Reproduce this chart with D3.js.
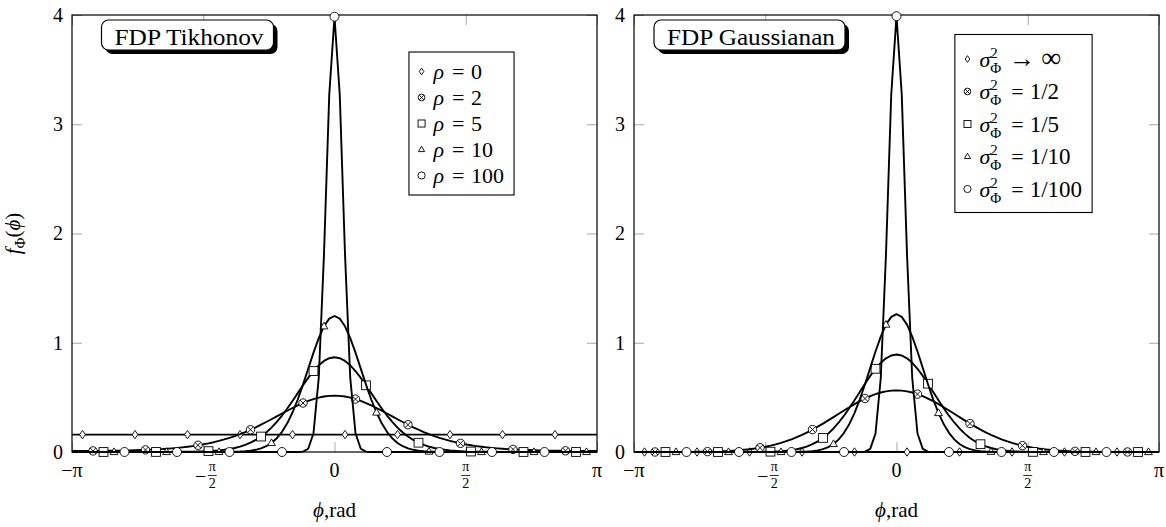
<!DOCTYPE html>
<html>
<head>
<meta charset="utf-8">
<script src="https://cdn.jsdelivr.net/npm/d3@7"></script>
<style>
  body { margin: 0; background: #fff; }
  svg { display: block; }
</style>
</head>
<body>
<svg id="chart" width="1166" height="527"></svg>
<script>
// sample positions (rad), 101 samples over [-pi, pi]
const phi = [
  -3.1416, -3.0788, -3.0159, -2.9531, -2.8903, -2.8274, -2.7646, -2.7018, -2.6389, -2.5761,
  -2.5133, -2.4504, -2.3876, -2.3248, -2.2619, -2.1991, -2.1363, -2.0735, -2.0106, -1.9478,
  -1.8850, -1.8221, -1.7593, -1.6965, -1.6336, -1.5708, -1.5080, -1.4451, -1.3823, -1.3195,
  -1.2566, -1.1938, -1.1310, -1.0681, -1.0053, -0.9425, -0.8796, -0.8168, -0.7540, -0.6912,
  -0.6283, -0.5655, -0.5027, -0.4398, -0.3770, -0.3142, -0.2513, -0.1885, -0.1257, -0.0628,
  0,
  0.0628, 0.1257, 0.1885, 0.2513, 0.3142, 0.3770, 0.4398, 0.5027, 0.5655, 0.6283,
  0.6912, 0.7540, 0.8168, 0.8796, 0.9425, 1.0053, 1.0681, 1.1310, 1.1938, 1.2566,
  1.3195, 1.3823, 1.4451, 1.5080, 1.5708, 1.6336, 1.6965, 1.7593, 1.8221, 1.8850,
  1.9478, 2.0106, 2.0735, 2.1363, 2.1991, 2.2619, 2.3248, 2.3876, 2.4504, 2.5133,
  2.5761, 2.6389, 2.7018, 2.7646, 2.8274, 2.8903, 2.9531, 3.0159, 3.0788, 3.1416
];

// FDP Tikhonov
const rho0 = [
  0.1592, 0.1592, 0.1592, 0.1592, 0.1592, 0.1592, 0.1592, 0.1592, 0.1592, 0.1592,
  0.1592, 0.1592, 0.1592, 0.1592, 0.1592, 0.1592, 0.1592, 0.1592, 0.1592, 0.1592,
  0.1592, 0.1592, 0.1592, 0.1592, 0.1592, 0.1592, 0.1592, 0.1592, 0.1592, 0.1592,
  0.1592, 0.1592, 0.1592, 0.1592, 0.1592, 0.1592, 0.1592, 0.1592, 0.1592, 0.1592,
  0.1592, 0.1592, 0.1592, 0.1592, 0.1592, 0.1592, 0.1592, 0.1592, 0.1592, 0.1592,
  0.1592,
  0.1592, 0.1592, 0.1592, 0.1592, 0.1592, 0.1592, 0.1592, 0.1592, 0.1592, 0.1592,
  0.1592, 0.1592, 0.1592, 0.1592, 0.1592, 0.1592, 0.1592, 0.1592, 0.1592, 0.1592,
  0.1592, 0.1592, 0.1592, 0.1592, 0.1592, 0.1592, 0.1592, 0.1592, 0.1592, 0.1592,
  0.1592, 0.1592, 0.1592, 0.1592, 0.1592, 0.1592, 0.1592, 0.1592, 0.1592, 0.1592,
  0.1592, 0.1592, 0.1592, 0.1592, 0.1592, 0.1592, 0.1592, 0.1592, 0.1592, 0.1592
];
const rho2 = [
  0.0094, 0.0095, 0.0096, 0.0098, 0.0101, 0.0104, 0.0109, 0.0114, 0.0121, 0.0129,
  0.0138, 0.0150, 0.0162, 0.0178, 0.0195, 0.0215, 0.0239, 0.0266, 0.0298, 0.0334,
  0.0376, 0.0425, 0.0480, 0.0543, 0.0616, 0.0698, 0.0792, 0.0897, 0.1016, 0.1148,
  0.1295, 0.1458, 0.1636, 0.1830, 0.2039, 0.2262, 0.2498, 0.2745, 0.3000, 0.3260,
  0.3521, 0.3779, 0.4028, 0.4265, 0.4483, 0.4678, 0.4845, 0.4979, 0.5078, 0.5138,
  0.5159,
  0.5138, 0.5078, 0.4979, 0.4845, 0.4678, 0.4483, 0.4265, 0.4028, 0.3779, 0.3521,
  0.3260, 0.3000, 0.2745, 0.2498, 0.2262, 0.2039, 0.1830, 0.1636, 0.1458, 0.1295,
  0.1148, 0.1016, 0.0897, 0.0792, 0.0698, 0.0616, 0.0543, 0.0480, 0.0425, 0.0376,
  0.0334, 0.0298, 0.0266, 0.0239, 0.0215, 0.0195, 0.0178, 0.0162, 0.0150, 0.0138,
  0.0129, 0.0121, 0.0114, 0.0109, 0.0104, 0.0101, 0.0098, 0.0096, 0.0095, 0.0094
];
const rho5 = [
  0.0001, 0.0001, 0.0001, 0.0001, 0.0001, 0.0001, 0.0001, 0.0001, 0.0001, 0.0001,
  0.0001, 0.0001, 0.0002, 0.0002, 0.0002, 0.0003, 0.0004, 0.0005, 0.0007, 0.0009,
  0.0012, 0.0017, 0.0023, 0.0031, 0.0043, 0.0058, 0.0080, 0.0109, 0.0149, 0.0203,
  0.0274, 0.0368, 0.0491, 0.0650, 0.0851, 0.1104, 0.1415, 0.1791, 0.2236, 0.2753,
  0.3337, 0.3981, 0.4672, 0.5388, 0.6104, 0.6789, 0.7411, 0.7936, 0.8336, 0.8586,
  0.8671,
  0.8586, 0.8336, 0.7936, 0.7411, 0.6789, 0.6104, 0.5388, 0.4672, 0.3981, 0.3337,
  0.2753, 0.2236, 0.1791, 0.1415, 0.1104, 0.0851, 0.0650, 0.0491, 0.0368, 0.0274,
  0.0203, 0.0149, 0.0109, 0.0080, 0.0058, 0.0043, 0.0031, 0.0023, 0.0017, 0.0012,
  0.0009, 0.0007, 0.0005, 0.0004, 0.0003, 0.0002, 0.0002, 0.0002, 0.0001, 0.0001,
  0.0001, 0.0001, 0.0001, 0.0001, 0.0001, 0.0001, 0.0001, 0.0001, 0.0001, 0.0001
];
const rho10 = [
  0, 0, 0, 0, 0, 0, 0, 0, 0, 0,
  0, 0, 0, 0, 0, 0, 0, 0, 0, 0,
  0, 0, 0, 0, 0, 0, 0.0001, 0.0002, 0.0004, 0.0007,
  0.0012, 0.0022, 0.0040, 0.0070, 0.0120, 0.0202, 0.0332, 0.0531, 0.0828, 0.1255,
  0.1844, 0.2625, 0.3614, 0.4807, 0.6169, 0.7631, 0.9093, 1.0429, 1.1506, 1.2207,
  1.2450,
  1.2207, 1.1506, 1.0429, 0.9093, 0.7631, 0.6169, 0.4807, 0.3614, 0.2625, 0.1844,
  0.1255, 0.0828, 0.0531, 0.0332, 0.0202, 0.0120, 0.0070, 0.0040, 0.0022, 0.0012,
  0.0007, 0.0004, 0.0002, 0.0001, 0, 0, 0, 0, 0, 0,
  0, 0, 0, 0, 0, 0, 0, 0, 0, 0,
  0, 0, 0, 0, 0, 0, 0, 0, 0, 0
];
const rho100 = [
  0, 0, 0, 0, 0, 0, 0, 0, 0, 0,
  0, 0, 0, 0, 0, 0, 0, 0, 0, 0,
  0, 0, 0, 0, 0, 0, 0, 0, 0, 0,
  0, 0, 0, 0, 0, 0, 0, 0, 0, 0,
  0, 0, 0, 0.0003, 0.0036, 0.0298, 0.1722, 0.6778, 1.8111, 3.2710,
  3.9844,
  3.2710, 1.8111, 0.6778, 0.1722, 0.0298, 0.0036, 0.0003, 0, 0, 0,
  0, 0, 0, 0, 0, 0, 0, 0, 0, 0,
  0, 0, 0, 0, 0, 0, 0, 0, 0, 0,
  0, 0, 0, 0, 0, 0, 0, 0, 0, 0,
  0, 0, 0, 0, 0, 0, 0, 0, 0, 0
];

// FDP Gaussiana
const varInf = [
  0, 0, 0, 0, 0, 0, 0, 0, 0, 0,
  0, 0, 0, 0, 0, 0, 0, 0, 0, 0,
  0, 0, 0, 0, 0, 0, 0, 0, 0, 0,
  0, 0, 0, 0, 0, 0, 0, 0, 0, 0,
  0, 0, 0, 0, 0, 0, 0, 0, 0, 0,
  0,
  0, 0, 0, 0, 0, 0, 0, 0, 0, 0,
  0, 0, 0, 0, 0, 0, 0, 0, 0, 0,
  0, 0, 0, 0, 0, 0, 0, 0, 0, 0,
  0, 0, 0, 0, 0, 0, 0, 0, 0, 0,
  0, 0, 0, 0, 0, 0, 0, 0, 0, 0
];
const var2 = [
  0, 0, 0.0001, 0.0001, 0.0001, 0.0002, 0.0003, 0.0004, 0.0005, 0.0007,
  0.0010, 0.0014, 0.0019, 0.0025, 0.0034, 0.0045, 0.0059, 0.0077, 0.0099, 0.0127,
  0.0162, 0.0204, 0.0255, 0.0317, 0.0391, 0.0478, 0.0581, 0.0699, 0.0835, 0.0989,
  0.1163, 0.1357, 0.1570, 0.1803, 0.2054, 0.2321, 0.2602, 0.2895, 0.3195, 0.3499,
  0.3802, 0.4098, 0.4382, 0.4650, 0.4894, 0.5112, 0.5297, 0.5445, 0.5554, 0.5620,
  0.5642,
  0.5620, 0.5554, 0.5445, 0.5297, 0.5112, 0.4894, 0.4650, 0.4382, 0.4098, 0.3802,
  0.3499, 0.3195, 0.2895, 0.2602, 0.2321, 0.2054, 0.1803, 0.1570, 0.1357, 0.1163,
  0.0989, 0.0835, 0.0699, 0.0581, 0.0478, 0.0391, 0.0317, 0.0255, 0.0204, 0.0162,
  0.0127, 0.0099, 0.0077, 0.0059, 0.0045, 0.0034, 0.0025, 0.0019, 0.0014, 0.0010,
  0.0007, 0.0005, 0.0004, 0.0003, 0.0002, 0.0001, 0.0001, 0.0001, 0, 0
];
const var5 = [
  0, 0, 0, 0, 0, 0, 0, 0, 0, 0,
  0, 0, 0, 0, 0, 0, 0, 0, 0, 0.0001,
  0.0001, 0.0002, 0.0004, 0.0007, 0.0011, 0.0019, 0.0030, 0.0048, 0.0075, 0.0115,
  0.0172, 0.0253, 0.0364, 0.0515, 0.0713, 0.0968, 0.1289, 0.1683, 0.2154, 0.2703,
  0.3325, 0.4011, 0.4743, 0.5500, 0.6253, 0.6970, 0.7618, 0.8162, 0.8575, 0.8833,
  0.8921,
  0.8833, 0.8575, 0.8162, 0.7618, 0.6970, 0.6253, 0.5500, 0.4743, 0.4011, 0.3325,
  0.2703, 0.2154, 0.1683, 0.1289, 0.0968, 0.0713, 0.0515, 0.0364, 0.0253, 0.0172,
  0.0115, 0.0075, 0.0048, 0.0030, 0.0019, 0.0011, 0.0007, 0.0004, 0.0002, 0.0001,
  0.0001, 0, 0, 0, 0, 0, 0, 0, 0, 0,
  0, 0, 0, 0, 0, 0, 0, 0, 0, 0
];
const var10 = [
  0, 0, 0, 0, 0, 0, 0, 0, 0, 0,
  0, 0, 0, 0, 0, 0, 0, 0, 0, 0,
  0, 0, 0, 0, 0, 0, 0, 0, 0.0001, 0.0002,
  0.0005, 0.0010, 0.0021, 0.0042, 0.0081, 0.0149, 0.0264, 0.0449, 0.0735, 0.1158,
  0.1752, 0.2550, 0.3567, 0.4796, 0.6199, 0.7702, 0.9199, 1.0562, 1.1658, 1.2369,
  1.2616,
  1.2369, 1.1658, 1.0562, 0.9199, 0.7702, 0.6199, 0.4796, 0.3567, 0.2550, 0.1752,
  0.1158, 0.0735, 0.0449, 0.0264, 0.0149, 0.0081, 0.0042, 0.0021, 0.0010, 0.0005,
  0.0002, 0.0001, 0, 0, 0, 0, 0, 0, 0, 0,
  0, 0, 0, 0, 0, 0, 0, 0, 0, 0,
  0, 0, 0, 0, 0, 0, 0, 0, 0, 0
];
const var100 = [
  0, 0, 0, 0, 0, 0, 0, 0, 0, 0,
  0, 0, 0, 0, 0, 0, 0, 0, 0, 0,
  0, 0, 0, 0, 0, 0, 0, 0, 0, 0,
  0, 0, 0, 0, 0, 0, 0, 0, 0, 0,
  0, 0, 0, 0.0003, 0.0033, 0.0287, 0.1695, 0.6751, 1.8113, 3.2748,
  3.9894,
  3.2748, 1.8113, 0.6751, 0.1695, 0.0287, 0.0033, 0.0003, 0, 0, 0,
  0, 0, 0, 0, 0, 0, 0, 0, 0, 0,
  0, 0, 0, 0, 0, 0, 0, 0, 0, 0,
  0, 0, 0, 0, 0, 0, 0, 0, 0, 0,
  0, 0, 0, 0, 0, 0, 0, 0, 0, 0
];

const rhoLabels = ["0", "2", "5", "10", "100"];
const varOps = ["\u2192", "=", "=", "=", "="];
const varLabels = ["\u221e", "1/2", "1/5", "1/10", "1/100"];
const xTicks = [-Math.PI, -Math.PI / 2, 0, Math.PI / 2, Math.PI];
const xTickLabels = ["\u2212\u03c0", "\u2212\u03c0/2", "0", "\u03c0/2", "\u03c0"];
const yTicks = [0, 1, 2, 3, 4];

const marks = ["diamond", "otimes", "square", "triangle", "circle"];
const markPhase = [2, 4, 6, 8, 10];

[rho0, rho2, rho5, rho10, rho100, varInf, var2, var5, var10, var100].forEach((s, k) => {
  if (s.length !== phi.length) throw new Error("series " + k + " has " + s.length + " values");
});

const SERIF = "'Liberation Serif', 'DejaVu Serif', serif";
const svg = d3.select("#chart");

const W = 525, H = 437, TOP = 15;
const x = d3.scaleLinear().domain([-Math.PI, Math.PI]).range([0, W]);
const y = d3.scaleLinear().domain([0, 4]).range([H, 0]);

function drawMark(g, type, cx, cy, s) {
  const m = g.append("g").attr("transform", `translate(${cx},${cy}) scale(${s})`)
    .attr("fill", "#fff").attr("stroke", "#000").attr("stroke-width", 0.9 / s);
  if (type === "diamond") m.append("path").attr("d", "M0,-4.2L2.9,0L0,4.2L-2.9,0Z");
  if (type === "square") m.append("rect").attr("x", -4.4).attr("y", -4.4).attr("width", 8.8).attr("height", 8.8);
  if (type === "triangle") m.append("path").attr("d", "M0,-4.1L3.9,2.6L-3.9,2.6Z");
  if (type === "circle") m.append("circle").attr("r", 4.5);
  if (type === "otimes") {
    m.append("circle").attr("r", 4.2);
    m.append("path").attr("d", "M-2.97,-2.97L2.97,2.97M-2.97,2.97L2.97,-2.97");
  }
}

function panel(ox, series, title, titleWidth, legendRows, withYLabel) {
  const g = svg.append("g").attr("transform", `translate(${ox},${TOP})`);

  // ticks on all four sides, pointing in
  const axes = [
    [d3.axisBottom(x).tickValues(xTicks).tickSize(-10).tickFormat(""), `translate(0,${H})`],
    [d3.axisTop(x).tickValues(xTicks).tickSize(-10).tickFormat(""), "translate(0,0)"],
    [d3.axisRight(y).tickValues(yTicks).tickSize(-10).tickFormat(""), `translate(${W},0)`],
    [d3.axisLeft(y).tickValues(yTicks).tickSize(-10).tickPadding(9).tickFormat(d3.format("d")), "translate(0,0)"]
  ];
  axes.forEach(([ax, tr]) => {
    const a = g.append("g").attr("transform", tr).call(ax);
    a.select(".domain").remove();
    a.selectAll(".tick line").attr("stroke", "#a8a8a8").attr("stroke-width", 1);
    a.selectAll(".tick text").attr("font-family", SERIF).attr("font-size", 20).attr("fill", "#000");
  });

  // x tick labels (fractions for pi/2)
  xTicks.forEach((v, k) => {
    const lab = xTickLabels[k];
    const tx = x(v);
    if (lab.includes("/")) {
      const neg = lab.startsWith("\u2212");
      const fx = neg ? tx + 9 : tx;
      if (neg) g.append("text").attr("x", tx + 3).attr("y", H + 31).attr("text-anchor", "end")
        .attr("font-family", SERIF).attr("font-size", 20).text("\u2212");
      g.append("text").attr("x", fx).attr("y", H + 19).attr("text-anchor", "middle")
        .attr("font-family", SERIF).attr("font-size", 14).text("\u03c0");
      g.append("line").attr("x1", fx - 4.5).attr("x2", fx + 4.5)
        .attr("y1", H + 23.5).attr("y2", H + 23.5).attr("stroke", "#000").attr("stroke-width", 0.8);
      g.append("text").attr("x", fx).attr("y", H + 36).attr("text-anchor", "middle")
        .attr("font-family", SERIF).attr("font-size", 14).text("2");
    } else {
      g.append("text").attr("x", tx).attr("y", H + 25).attr("text-anchor", "middle")
        .attr("font-family", SERIF).attr("font-size", 20).text(lab);
    }
  });

  // frame
  g.append("rect").attr("width", W).attr("height", H)
    .attr("fill", "none").attr("stroke", "#000").attr("stroke-width", 1.2);

  // curves with marks
  const line = d3.line().x((d, i) => x(phi[i])).y(d => y(d));
  series.forEach((s, k) => {
    g.append("path").datum(s).attr("d", line)
      .attr("fill", "none").attr("stroke", "#000").attr("stroke-width", 1.9)
      .attr("stroke-linejoin", "round");
    s.forEach((v, i) => {
      if (i >= markPhase[k] && (i - markPhase[k]) % 10 === 0 && i < 100) {
        drawMark(g, marks[k], x(phi[i]), y(v), 1);
      }
    });
  });

  // axis labels
  const xl = g.append("text").attr("x", W / 2).attr("y", H + 65).attr("text-anchor", "middle")
    .attr("font-family", SERIF).attr("font-size", 21);
  xl.append("tspan").attr("font-style", "italic").text("\u03d5");
  xl.append("tspan").text(",rad");

  if (withYLabel) {
    const yl = g.append("text").attr("transform", `translate(${-52},${y(2)}) rotate(-90)`)
      .attr("text-anchor", "middle").attr("font-family", SERIF).attr("font-size", 21);
    yl.append("tspan").attr("font-style", "italic").text("f");
    yl.append("tspan").attr("font-size", 15).attr("dy", 5).text("\u03a6");
    yl.append("tspan").attr("dy", -5).text("(");
    yl.append("tspan").attr("font-style", "italic").text("\u03d5");
    yl.append("tspan").text(")");
  }

  // title node with drop shadow
  const tg = g.append("g");
  tg.append("text").attr("x", 117).attr("y", 30).attr("text-anchor", "middle")
    .attr("font-family", SERIF).attr("font-size", 23)
    .attr("textLength", titleWidth).attr("lengthAdjust", "spacingAndGlyphs").text(title);
  const bw = titleWidth + 23, bx = 117 - bw / 2 - 1.5, by = 5, bh = 30;
  tg.insert("rect", "text").attr("x", bx + 4).attr("y", by + 4).attr("width", bw).attr("height", bh)
    .attr("rx", 7).attr("fill", "#000");
  tg.insert("rect", "text").attr("x", bx).attr("y", by).attr("width", bw).attr("height", bh)
    .attr("rx", 7).attr("fill", "#fff").attr("stroke", "#000").attr("stroke-width", 1.2);

  // legend
  const lg = g.append("g");
  const lc = lg.append("g");
  legendRows.forEach((row, k) => {
    const ry = k * row.step;
    drawMark(lc, marks[k], 0, ry, 0.8);
    row.draw(lc, 12, ry + 7.5, k);
  });
  const lb = lc.node().getBBox();
  lg.insert("rect", "g").attr("x", lb.x - 9).attr("y", lb.y - 7)
    .attr("width", lb.width + 19).attr("height", lb.height + 14)
    .attr("fill", "#fff").attr("stroke", "#000").attr("stroke-width", 1.1);
  const cx = lb.x + lb.width / 2, cy = lb.y + lb.height / 2;
  lg.attr("transform", `translate(${389 - cx},${108.5 - cy})`);
}

const rhoRows = rhoLabels.map(v => ({
  step: 26,
  draw: (g, tx, ty) => {
    const t = g.append("text").attr("x", tx).attr("y", ty).attr("font-family", SERIF).attr("font-size", 22);
    t.append("tspan").attr("font-style", "italic").text("\u03c1");
    t.append("tspan").attr("dx", 8).text("=");
    t.append("tspan").attr("dx", 6.5).text(v);
  }
}));

const varRows = varLabels.map((v, k) => ({
  step: 32.5,
  draw: (g, tx, ty) => {
    const t = g.append("text").attr("x", tx).attr("y", ty).attr("font-family", SERIF).attr("font-size", 22);
    t.append("tspan").attr("font-style", "italic").text("\u03c3");
    t.append("tspan").attr("font-size", 15).attr("dy", -9).text("2");
    t.append("tspan").attr("font-size", 15).attr("dx", -7.5).attr("dy", 15).text("\u03a6");
    const isArrow = varOps[k] !== "=";
    t.append("tspan").attr("dy", -6).attr("dx", isArrow ? 8 : 10)
      .attr("font-size", isArrow ? 26 : 22).text(varOps[k]);
    t.append("tspan").attr("dx", 6).attr("font-size", isArrow ? 28 : 23).text(v);
  }
}));

panel(72, [rho0, rho2, rho5, rho10, rho100], "FDP Tikhonov", 149, rhoRows, true);
panel(634, [varInf, var2, var5, var10, var100], "FDP Gaussianan", 168, varRows, false);
</script>
</body>
</html>
